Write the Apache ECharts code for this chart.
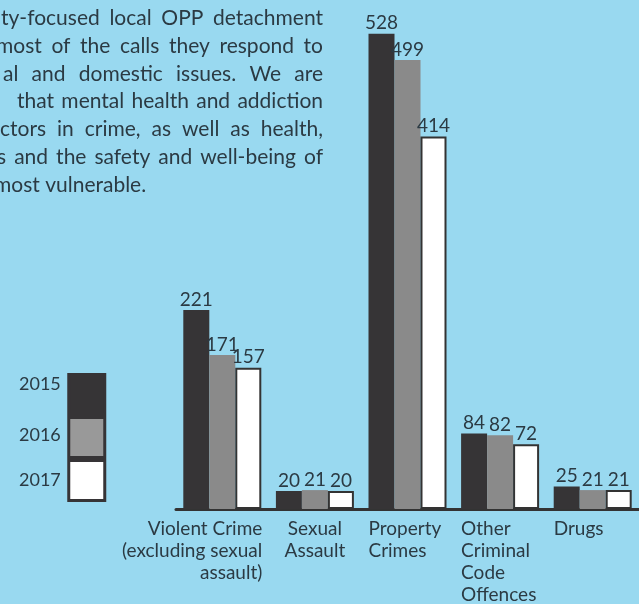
<!DOCTYPE html>
<html>
<head>
<meta charset="utf-8">
<script src="https://cdn.jsdelivr.net/npm/echarts@6/dist/echarts.min.js"></script>
<style>
html,body{margin:0;padding:0;background:#99d9f0;overflow:hidden;}
#c{width:639px;height:604px;}
</style>
</head>
<body>
<div id="c"></div>
<script>
const categories = ['Violent Crime\n(excluding sexual\nassault)', 'Sexual\nAssault', 'Property\nCrimes', 'Other\nCriminal\nCode\nOffences', 'Drugs'];
const labelAlign = ['right', 'center', 'left', 'left', 'left'];
const years = ['2015', '2016', '2017'];
const v2015 = [221, 20, 528, 84, 25];
const v2016 = [171, 21, 499, 82, 21];
const v2017 = [157, 20, 414, 72, 21];
const paragraph = [
  'ty-focused local OPP detachment',
  'most of the calls they respond to',
  'al and domestic issues. We are',
  'that mental health and addiction',
  'ctors in crime, as well as health,',
  's and the safety and well-being of',
  'most vulnerable.'
];
const paraLeft = [1, -4, 3, 17, 0, -3, -6];

const TXT = '#2b3a43';
const FONT = 'Lato';
const PFONT = '21px ' + FONT;
const chart = echarts.init(document.getElementById('c'));

function labelFmt(value, idx) {
  const lines = value.split('\n');
  const a = labelAlign[idx];
  if (a === 'right') return lines.map(l => '{r|' + l + '}{sr|}').join('\n');
  if (a === 'left') return lines.map(l => '{sl|}{l|' + l + '}').join('\n');
  return lines.map(l => '{c|' + l + '}').join('\n');
}
const base = {fontSize: 19, fontFamily: FONT, color: TXT, lineHeight: 22};

// justified paragraph lines (right edge at 323), last line left aligned
const ctx = document.createElement('canvas').getContext('2d');
ctx.font = PFONT;
const graphics = [];
paragraph.forEach((t, i) => {
  const y = 18 + i * 27.9;
  const last = i === paragraph.length - 1;
  if (last) {
    graphics.push({type: 'text', x: paraLeft[i], y: y,
      style: {text: t, font: PFONT, fill: TXT, textAlign: 'left', textVerticalAlign: 'middle'}});
    return;
  }
  const words = t.split(' ');
  const ws = words.map(w => ctx.measureText(w).width);
  const total = ws.reduce((a, b) => a + b, 0);
  const gap = (323 - paraLeft[i] - total) / (words.length - 1);
  let x = paraLeft[i];
  words.forEach((w, k) => {
    graphics.push({type: 'text', x: x, y: y,
      style: {text: w, font: PFONT, fill: TXT, textAlign: 'left', textVerticalAlign: 'middle'}});
    x += ws[k] + gap;
  });
});

const colors = ['#363436', '#8a8a8a', '#ffffff'];
const vals = [v2015, v2016, v2017];
const legBase = {fontSize: 18, fontFamily: FONT, color: TXT, lineHeight: 18};

chart.setOption({
  backgroundColor: '#99d9f0',
  animation: false,
  grid: {left: 176, right: 0, top: 5, bottom: 95, containLabel: false, outerBoundsMode: 'none'},
  xAxis: {
    type: 'category',
    data: categories,
    axisLine: {lineStyle: {color: '#333', width: 3}},
    axisTick: {show: false},
    axisLabel: {
      interval: 0, margin: 9, hideOverlap: false,
      formatter: labelFmt,
      rich: {
        r: Object.assign({width: 160, align: 'right'}, base),
        sr: Object.assign({width: 80, align: 'right'}, base),
        sl: Object.assign({width: 42, align: 'left'}, base),
        l: Object.assign({width: 120, align: 'left'}, base),
        c: Object.assign({}, base)
      }
    }
  },
  yAxis: {type: 'value', min: 0, max: 560, show: false, splitLine: {show: false}},
  legend: {
    orient: 'vertical', left: 14, top: 368, itemGap: 0, itemWidth: 36, itemHeight: 40,
    align: 'right', icon: 'rect',
    formatter: name => '{y' + name + '|' + name + '}',
    textStyle: {
      fontSize: 18, fontFamily: FONT, color: TXT,
      rich: {
        y2015: Object.assign({padding: [0, 3, 20, 0]}, legBase),
        y2016: Object.assign({padding: [0, 3, 4, 0]}, legBase),
        y2017: Object.assign({padding: [0, 3, 0, 0]}, legBase)
      }
    },
    data: [
      {name: '2015', itemStyle: {color: '#363436', borderColor: '#363436', borderWidth: 3}},
      {name: '2016', itemStyle: {color: '#999999', borderColor: '#363436', borderWidth: 3}},
      {name: '2017', itemStyle: {color: '#ffffff', borderColor: '#363436', borderWidth: 3}}
    ]
  },
  graphic: graphics,
  series: years.map((y, i) => ({
    name: y,
    type: 'bar',
    data: vals[i],
    barWidth: 26,
    barGap: '0%',
    itemStyle: {color: colors[i], borderColor: i === 2 ? '#333' : colors[i], borderWidth: i === 2 ? 2 : 0},
    label: {show: true, position: 'top', distance: 1, fontSize: 19, fontFamily: FONT, color: TXT}
  }))
});
</script>
</body>
</html>
